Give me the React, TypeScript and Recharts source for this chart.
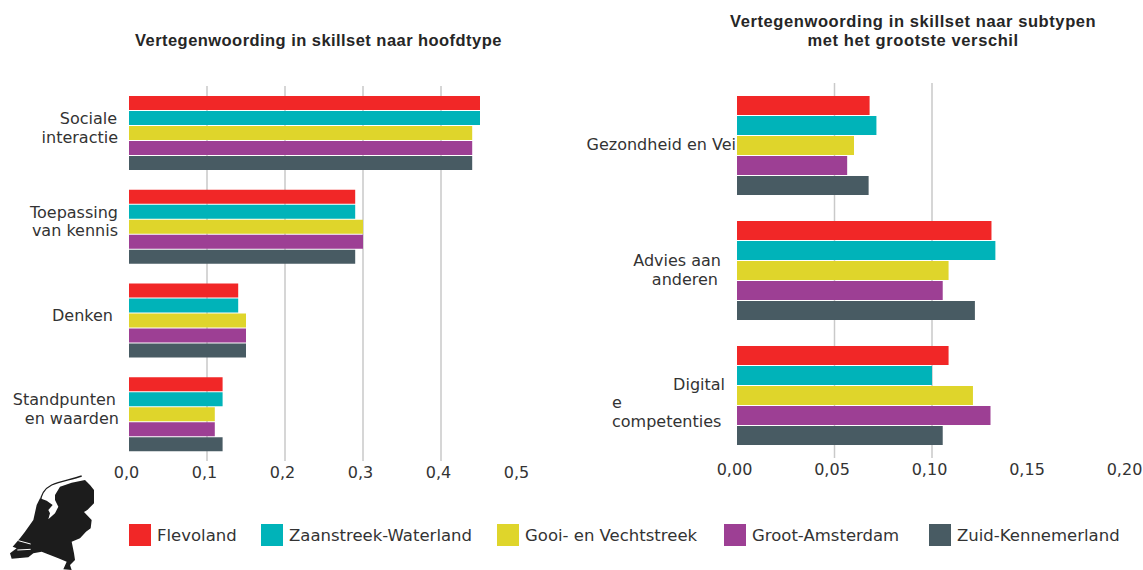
import React from 'react';
import { BarChart, Bar, XAxis, YAxis, CartesianGrid } from 'recharts';

const regions = ['Flevoland', 'Zaanstreek-Waterland', 'Gooi- en Vechtstreek', 'Groot-Amsterdam', 'Zuid-Kennemerland'];
const colors = ['#F12727', '#00B3B9', '#DFD52B', '#9D3F94', '#485B63'];

const mainTypes = ['Sociale interactie', 'Toepassing van kennis', 'Denken', 'Standpunten en waarden'];
const mainFlevoland = [0.45, 0.29, 0.14, 0.12];
const mainZaanstreek = [0.45, 0.29, 0.14, 0.12];
const mainGooi = [0.44, 0.3, 0.15, 0.11];
const mainAmsterdam = [0.44, 0.3, 0.15, 0.11];
const mainKennemerland = [0.44, 0.29, 0.15, 0.12];
const mainTicks = [0, 0.1, 0.2, 0.3, 0.4, 0.5];
const mainGrid = [0.1, 0.2, 0.3, 0.4];

const subTypes = ['Gezondheid en Vei', 'Advies aan anderen', 'Digitale competenties'];
const subFlevoland = [0.068, 0.1305, 0.1085];
const subZaanstreek = [0.0715, 0.1325, 0.1];
const subGooi = [0.06, 0.1085, 0.121];
const subAmsterdam = [0.0565, 0.1055, 0.13];
const subKennemerland = [0.0675, 0.122, 0.1055];
const subTicks = [0, 0.05, 0.1, 0.15, 0.2];
const subGrid = [0.05, 0.1];

// hoe de labels in het origineel afbreken
const labelLines: Record<string, string[]> = {
  'Sociale interactie': ['Sociale', 'interactie'],
  'Toepassing van kennis': ['Toepassing', 'van kennis'],
  'Denken': ['Denken'],
  'Standpunten en waarden': ['Standpunten', 'en waarden'],
  'Gezondheid en Vei': ['Gezondheid en Vei'],
  'Advies aan anderen': ['Advies aan', 'anderen'],
  'Digitale competenties': ['Digital', 'e', 'competenties'],
};

// afstand van het einde van elke regel tot de tick
const lineGap: Record<string, number> = {
  Sociale: 4,
  interactie: 3,
  Toepassing: 3,
  'van kennis': 3,
  Denken: 8,
  Standpunten: 5,
  'en waarden': 2,
  'Gezondheid en Vei': -7,
  'Advies aan': 8,
  anderen: 11,
  Digital: 4,
};
const labelShift: Record<string, number> = {
  'Gezondheid en Vei': -1,
  'Advies aan anderen': 0,
  'Digitale competenties': 7.5,
};

const FONT = '"DejaVu Sans", sans-serif';
const TEXT = '#333333';

const toRows = (cats: string[], series: number[][]) =>
  cats.map((name, i) => {
    const row: Record<string, string | number> = { name };
    regions.forEach((r, j) => {
      row[r] = series[j][i];
    });
    return row;
  });

const mainData = toRows(mainTypes, [mainFlevoland, mainZaanstreek, mainGooi, mainAmsterdam, mainKennemerland]);
const subData = toRows(subTypes, [subFlevoland, subZaanstreek, subGooi, subAmsterdam, subKennemerland]);

const CategoryTick = ({ x, y, payload }: any) => {
  const parts: string[] = labelLines[payload.value];
  const top = y - ((parts.length - 1) * 18.5) / 2 + (labelShift[payload.value] ?? -4.5);
  return (
    <text fontFamily={FONT} fontSize={16} fill={TEXT} dominantBaseline="middle">
      {parts.map((line, i) => {
        const fromLeft = line === 'e' || line === 'competenties';
        return (
          <tspan
            key={line}
            x={fromLeft ? x - 117 : x - (lineGap[line] ?? 0)}
            y={top + i * 18.5}
            textAnchor={fromLeft ? 'start' : 'end'}
          >
            {line}
          </tspan>
        );
      })}
    </text>
  );
};

const titleStyle: React.CSSProperties = {
  position: 'absolute',
  fontFamily: '"Liberation Sans", Arial, sans-serif',
  fontWeight: 'bold',
  fontSize: 16.5,
  color: '#262626',
  textAlign: 'center',
  lineHeight: '19px',
  whiteSpace: 'nowrap',
};

const Panel = ({ data, ticks, grid, digits, barSize, height, top, yWidth, left, width }: any) => (
  <div style={{ position: 'absolute', left, top }}>
    <BarChart
      width={width}
      height={height}
      data={data}
      layout="vertical"
      barSize={barSize}
      barGap={1}
      margin={{ top: 0, right: 30, bottom: 0, left: 0 }}
    >
      <CartesianGrid horizontal={false} verticalValues={grid} stroke="#C9C9C9" strokeWidth={1.5} />
      <XAxis
        type="number"
        domain={[ticks[0], ticks[ticks.length - 1]]}
        ticks={ticks}
        interval={0}
        axisLine={false}
        tickLine={false}
        height={32}
        tickMargin={0}
        tick={{ fontFamily: FONT, fontSize: 16, fill: TEXT, dx: -2.5 }}
        tickFormatter={(v: number) => v.toFixed(digits).replace('.', ',')}
      />
      <YAxis
        type="category"
        dataKey="name"
        width={yWidth}
        axisLine={false}
        tickLine={false}
        interval={0}
        tick={<CategoryTick />}
      />
      {regions.map((r, i) => (
        <Bar key={r} dataKey={r} fill={colors[i]} isAnimationActive={false} />
      ))}
    </BarChart>
  </div>
);

const legendLeft = [129, 261, 497, 724, 929];

const NetherlandsMap = () => (
  <svg width={100} height={100} viewBox="0 0 300 300" style={{ position: 'absolute', left: 0, top: 470 }}>
    <path d="M120 100 C122 75 135 55 155 45 C180 35 215 28 245 18" fill="none" stroke="#1c1c1c" strokeWidth={4} />
    <path
      fill="#1c1c1c"
      d="M165 75 L180 50 L215 38 L255 30 L270 45 L282 60 L282 100 L262 120 L252 126 L275 150 L272 175 L258 185 L240 205 L215 215 L222 250 L225 270 L210 285 L215 300 L190 298 L200 275 L175 265 L150 255 L125 245 L100 250 L85 262 L35 266 L30 250 L50 235 L38 230 L60 205 L75 185 L100 150 L110 105 L120 85 L140 92 L158 105 L145 120 L150 130 L145 148 L165 130 L175 110 L165 90 Z"
    />
    <path d="M55 212 L92 222 M52 240 L92 238" stroke="#ffffff" strokeWidth={3} fill="none" />
  </svg>
);

export default function App() {
  return (
    <div style={{ position: 'absolute', left: 0, top: 0, width: 1143, height: 570, overflow: 'hidden', background: '#fff' }}>
      <div style={{ ...titleStyle, left: 135, top: 31, letterSpacing: 0.45 }}>Vertegenwoording in skillset naar hoofdtype</div>
      <div style={{ ...titleStyle, left: 730, top: 12, letterSpacing: 0.6 }}>
        Vertegenwoording in skillset naar subtypen
        <br />
        met het grootste verschil
      </div>

      <Panel
        data={mainData}
        ticks={mainTicks}
        grid={mainGrid}
        digits={1}
        barSize={14}
        left={0}
        top={86}
        width={549}
        height={407}
        yWidth={129}
      />
      <Panel
        data={subData}
        ticks={subTicks}
        grid={subGrid}
        digits={2}
        barSize={19}
        left={571}
        top={83}
        width={586}
        height={407}
        yWidth={166}
      />

      <NetherlandsMap />

      {regions.map((r, i) => (
        <div key={r} style={{ position: 'absolute', left: legendLeft[i], top: 524, display: 'flex', alignItems: 'center', height: 22 }}>
          <span style={{ width: 22, height: 22, background: colors[i], display: 'inline-block', marginRight: 6 }} />
          <span style={{ fontFamily: FONT, fontSize: 16.5, color: TEXT, whiteSpace: 'nowrap' }}>{r}</span>
        </div>
      ))}
    </div>
  );
}
